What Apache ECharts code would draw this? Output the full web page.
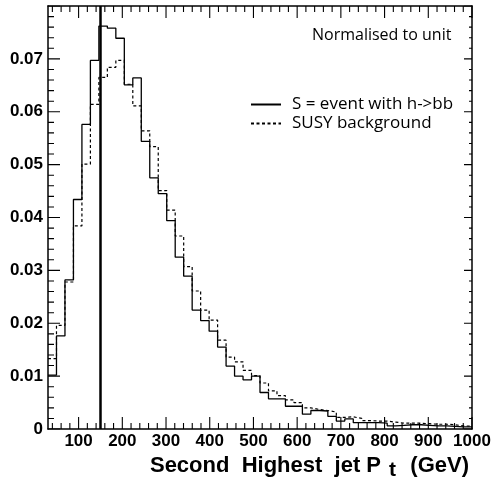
<!DOCTYPE html>
<html><head><meta charset="utf-8">
<script src="https://cdn.jsdelivr.net/npm/echarts@6/dist/echarts.min.js"></script>
<style>html,body{margin:0;padding:0;background:#fff}#c{width:494px;height:485px}</style>
</head><body><div id="c"></div>
<script>
// Histogram: 50 bins from 30 to 1000 GeV
const binLow = 30;
const binHigh = 1000;
const nBins = 50;
const signal = [
  0.0102, 0.0176, 0.0282, 0.0434, 0.0576, 0.0697, 0.0762, 0.0758, 0.0739, 0.0651,
  0.0664, 0.0544, 0.0475, 0.0445, 0.0394, 0.0325, 0.0289, 0.0225, 0.0205, 0.0185,
  0.0155, 0.0119, 0.0100, 0.0093, 0.0100, 0.0069, 0.0057, 0.0057, 0.0043, 0.0043,
  0.0028, 0.0035, 0.0034, 0.0024, 0.0015, 0.0019, 0.0012, 0.0012, 0.0012, 0.0011,
  0.0006, 0.0007, 0.0008, 0.0008, 0.0007, 0.0006, 0.0006, 0.0005, 0.0004, 0.0004
];
const background = [
  0.0133, 0.0196, 0.0278, 0.0384, 0.0501, 0.0614, 0.0665, 0.0684, 0.0697, 0.0652,
  0.0611, 0.0564, 0.0534, 0.0451, 0.0414, 0.0365, 0.0307, 0.0261, 0.0225, 0.0206,
  0.0168, 0.0136, 0.0127, 0.0111, 0.0101, 0.0087, 0.0072, 0.0063, 0.0055, 0.0050,
  0.0040, 0.0037, 0.0035, 0.0032, 0.0022, 0.0023, 0.0020, 0.0016, 0.0015, 0.0015,
  0.0013, 0.0011, 0.0011, 0.0011, 0.0010, 0.0009, 0.0009, 0.0008, 0.0006, 0.0005
];
const seriesNames = ['S = event with h->bb', 'SUSY background'];
const xMajorTicks = [100, 200, 300, 400, 500, 600, 700, 800, 900, 1000];
const xMinorTicks = [40, 60, 80, 120, 140, 160, 180, 220, 240, 260, 280, 320, 340, 360, 380,
  420, 440, 460, 480, 520, 540, 560, 580, 620, 640, 660, 680, 720, 740, 760, 780,
  820, 840, 860, 880, 920, 940, 960, 980];
const yMajorTicks = [0, 0.01, 0.02, 0.03, 0.04, 0.05, 0.06, 0.07, 0.08];
const yMinorTicks = [0.002, 0.004, 0.006, 0.008, 0.012, 0.014, 0.016, 0.018, 0.022, 0.024, 0.026, 0.028,
  0.032, 0.034, 0.036, 0.038, 0.042, 0.044, 0.046, 0.048, 0.052, 0.054, 0.056, 0.058,
  0.062, 0.064, 0.066, 0.068, 0.072, 0.074, 0.076, 0.078];
const yMin = 0, yMax = 0.08, yStep = 0.01;
const cutValue = 150;
const noteText = 'Normalised to unit';

const binWidth = (binHigh - binLow) / nBins;
function toSteps(vals) {
  const pts = vals.map((v, i) => [binLow + i * binWidth, v]);
  pts.push([binHigh, vals[vals.length - 1]]);
  return pts;
}

// layout (pixels)
const W = 494, H = 485, GL = 48, GR = 22, GT = 6, GB = 56;
const perPxX = (binHigh - binLow) / (W - GL - GR);
const perPxY = (yMax - yMin) / (H - GT - GB);
const GAP = ['-', '-'];
// inward ROOT-style tick marks on all four frame sides, as broken line segments
function tickSegments() {
  const d = [];
  const addX = (v, len) => {
    d.push([v, yMin], [v, yMin + len * perPxY], GAP, [v, yMax], [v, yMax - len * perPxY], GAP);
  };
  const addY = (v, lenL, lenR) => {
    d.push([binLow, v], [binLow + lenL * perPxX, v], GAP, [binHigh, v], [binHigh - lenR * perPxX, v], GAP);
  };
  xMajorTicks.forEach(v => addX(v, 12));
  xMinorTicks.forEach(v => addX(v, 6));
  yMajorTicks.forEach(v => addY(v, 12, 8));
  yMinorTicks.forEach(v => addY(v, 6, 3));
  return d;
}

const FONT = "'Liberation Sans', Arial, Helvetica, sans-serif";
const chart = echarts.init(document.getElementById('c'), null, {renderer: 'canvas'});

function xAxisDef(pos, showLabel) {
  return {
    type: 'value', min: binLow, max: binHigh, position: pos,
    axisLine: {show: true, onZero: false, lineStyle: {color: '#000', width: 1.5}},
    axisTick: {show: false},
    axisLabel: {show: showLabel, customValues: xMajorTicks, color: '#000', fontFamily: FONT, fontWeight: 'bold', fontSize: 17, margin: 4,
      formatter: v => String(v)},
    splitLine: {show: false}
  };
}
function yAxisDef(pos, showLabel) {
  return {
    type: 'value', min: yMin, max: yMax, interval: yStep, position: pos,
    axisLine: {show: true, onZero: false, lineStyle: {color: '#000', width: 1.5}},
    axisTick: {show: false}, minorTick: {show: false},
    axisLabel: {show: showLabel, showMaxLabel: false, color: '#000', fontFamily: FONT, fontWeight: 'bold', fontSize: 17, margin: 5,
      formatter: v => (v === 0 ? '0' : v.toFixed(2))},
    splitLine: {show: false}, minorSplitLine: {show: false}
  };
}

chart.setOption({
  animation: false,
  backgroundColor: '#fff',
  grid: {left: GL, right: GR, top: GT, bottom: GB},
  title: {text: noteText, left: 307, top: 22,
    textStyle: {fontFamily: "'Open Sans', sans-serif", fontSize: 16, fontWeight: 'normal', color: '#000'}},
  legend: {
    data: seriesNames, orient: 'vertical', left: 245, top: 91, itemWidth: 30, itemHeight: 14, itemGap: 2,
    selectedMode: false, itemStyle: {opacity: 0},
    textStyle: {fontFamily: "'Open Sans', sans-serif", fontSize: 17, color: '#000', padding: [0, 0, 0, 6]}
  },
  xAxis: [xAxisDef('bottom', true), xAxisDef('top', false)],
  yAxis: [yAxisDef('left', true), yAxisDef('right', false)],
  graphic: [{
    type: 'text', right: 25, top: 455,
    style: {
      text: '{a|Second  Highest  jet P }{b|t}{a|  (GeV)}',
      rich: {
        a: {fontFamily: FONT, fontWeight: 'bold', fontSize: 22, fill: '#000', verticalAlign: 'top', lineHeight: 26},
        b: {fontFamily: FONT, fontWeight: 'bold', fontSize: 21, fill: '#000', verticalAlign: 'top', lineHeight: 26, padding: [5, 2, 0, 2]}
      }
    }
  }],
  series: [
    {
      name: seriesNames[0], type: 'line', step: 'end', data: toSteps(signal), symbol: 'none',
      xAxisIndex: 0, yAxisIndex: 0, z: 3,
      lineStyle: {color: '#000', width: 1.3}, itemStyle: {color: '#000'},
      markLine: {silent: true, symbol: 'none', label: {show: false},
        lineStyle: {color: '#000', width: 2.5, type: 'solid'}, data: [{xAxis: cutValue}]}
    },
    {
      name: seriesNames[1], type: 'line', step: 'end', data: toSteps(background), symbol: 'none',
      xAxisIndex: 0, yAxisIndex: 0, z: 2,
      lineStyle: {color: '#000', width: 1.2, type: [3, 2.5]}, itemStyle: {color: '#000'}
    },
    {
      name: 'ticks', type: 'line', data: tickSegments(), symbol: 'none', showSymbol: false,
      connectNulls: false, silent: true, xAxisIndex: 0, yAxisIndex: 0, z: 4,
      lineStyle: {color: '#000', width: 1.1, type: 'solid'}, itemStyle: {color: '#000'}
    }
  ]
});
</script></body></html>
